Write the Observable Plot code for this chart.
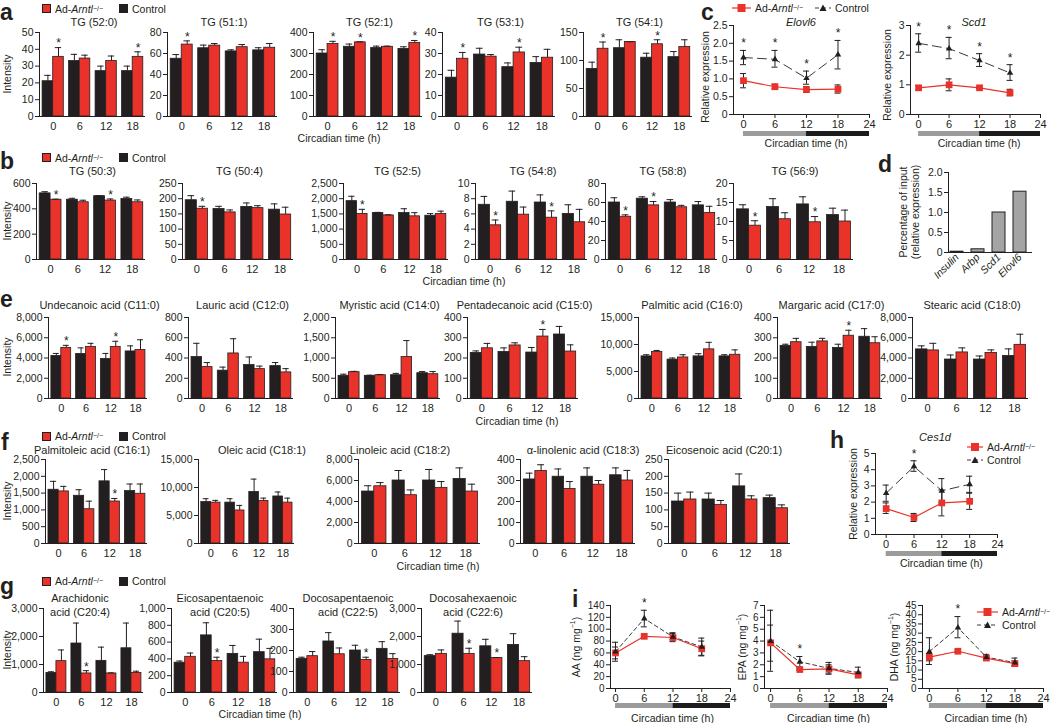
<!DOCTYPE html>
<html>
<head>
<meta charset="utf-8">
<script src="https://cdn.jsdelivr.net/npm/d3@7"></script>
<script src="https://cdn.jsdelivr.net/npm/@observablehq/plot@0.6"></script>
<style>
  html,body{margin:0;padding:0;background:#fff;}
  #fig{position:relative;width:1050px;height:723px;overflow:hidden;background:#fff;
       font-family:"Liberation Sans",Arial,Helvetica,sans-serif;color:#231f20;}
  #fig > svg{position:absolute;}
  .t{position:absolute;white-space:nowrap;transform:translate(-50%,-50%);text-align:center;font-size:11px;line-height:14px;}
  .ax{position:absolute;white-space:nowrap;transform:translate(-50%,-50%);text-align:center;font-size:10.5px;line-height:11px;}
  .rot{position:absolute;white-space:nowrap;transform:translate(-50%,-50%) rotate(-90deg);text-align:center;font-size:10.5px;line-height:11px;}
  .pl{position:absolute;font-weight:bold;font-size:23px;line-height:23px;}
  .lg{position:absolute;white-space:nowrap;font-size:10.5px;line-height:12px;transform:translateY(-50%);display:flex;align-items:center;}
  .sq{display:inline-block;width:7px;height:7px;border:1px solid #231f20;margin-right:4px;}
  sup{font-size:7px;line-height:0;vertical-align:super;}
</style>
</head>
<body>
<div id="fig"></div>
<script>
// ---------------- DATA ----------------
const TIMES = [0, 6, 12, 18];
// bar panels: one row per circadian time: [Control mean, Control upper error, Ad-Arntl mean, Ad-Arntl upper error]
const TG_52_0 = [[21,24.5,35.5,41],[33,37,34.5,36.5],[27,30,33,36],[27,30,35.5,38.5]];
const TG_52_0_sig = [0, 18];
const TG_51_1 = [[55,59,68.5,72],[65,68,67.5,69.5],[62,63.5,66,68.5],[63,65.5,65.5,69.5]];
const TG_51_1_sig = [0];
const TG_52_1 = [[300,318,345,358],[332,345,353,356],[326,335,332,335],[322,332,350,362]];
const TG_52_1_sig = [0, 6, 18];
const TG_53_1 = [[18.5,22,27.5,30.5],[29.5,32.5,28.5,29.5],[23.5,25.5,30.5,33],[25.5,28.5,28,32]];
const TG_53_1_sig = [0, 12];
const TG_54_1 = [[85,97,121,133],[122,137,133,133.5],[105,113,129,137],[106,116,124,137]];
const TG_54_1_sig = [0, 12];

const TG_50_3 = [[522,535,472,476],[472,483,452,468],[500,503,465,478],[478,492,452,470]];
const TG_50_3_sig = [0, 12];
const TG_50_4 = [[195,210,167,175],[166,175,155,163],[173,186,169,177],[164,183,148,172]];
const TG_50_4_sig = [0];
const TG_52_5 = [[1920,2080,1500,1650],[1530,1550,1450,1470],[1530,1670,1420,1540],[1440,1510,1500,1590]];
const TG_52_5_sig = [0];
const TG_54_8 = [[7.2,8.3,4.5,5.2],[7.6,9.0,5.9,6.9],[7.5,8.5,5.5,6.4],[6.0,7.2,4.9,6.6]];
const TG_54_8_sig = [0, 12];
const TG_58_8 = [[60,65,45,47],[64,66,57,61],[60,63,55,57],[57,61,49,56]];
const TG_58_8_sig = [0, 6];
const TG_56_9 = [[13.2,14.4,8.9,10.2],[13.8,16,10.6,12.3],[14.5,16.5,9.8,11.3],[11.7,13.5,10,13]];
const TG_56_9_sig = [0, 12];

const C11_0 = [[4200,4450,5000,5250],[4400,5000,5100,5450],[3900,4450,5100,5650],[4650,5200,4800,5800]];
const C11_0_sig = [0, 12];
const C12_0 = [[410,545,310,355],[275,310,445,590],[330,410,290,320],[320,355,258,295]];
const C12_0_sig = [];
const C14_0 = [[560,600,650,670],[560,575,575,590],[575,620,1025,1430],[625,665,600,665]];
const C14_0_sig = [];
const C15_0 = [[225,235,248,272],[230,250,262,275],[227,252,306,341],[316,356,232,265]];
const C15_0_sig = [12];
const C16_0 = [[7800,8100,8600,8900],[7200,7500,7600,8100],[7800,8300,9100,10400],[7800,8100,8100,9000]];
const C16_0_sig = [];
const C17_0 = [[260,268,278,297],[255,278,282,297],[250,268,310,337],[305,345,273,305]];
const C17_0_sig = [12];
const C18_0 = [[4850,5200,4750,5450],[3850,4300,4550,5000],[3850,4200,4500,4800],[4200,4900,5300,6350]];
const C18_0_sig = [];

const C16_1 = [[1600,1850,1550,1700],[1420,1600,1020,1260],[1850,2200,1250,1340],[1560,1770,1480,1770]];
const C16_1_sig = [12];
const C18_1 = [[7400,8000,7300,7700],[7300,8000,5900,6800],[9200,11500,7600,8100],[8400,9200,7300,8100]];
const C18_1_sig = [];
const C18_2 = [[4950,5500,5450,5800],[6000,6950,4600,5100],[6000,7050,5300,5900],[6150,7200,4950,5650]];
const C18_2_sig = [];
const C18_3 = [[305,335,345,375],[318,355,260,295],[318,360,280,300],[325,360,300,348]];
const C18_3_sig = [];
const C20_1 = [[125,150,131,153],[131,150,115,128],[170,207,131,142],[135,144,105,115]];
const C20_1_sig = [];

const C20_4 = [[700,740,1120,1520],[1750,2480,680,780],[1130,1620,680,700],[1580,2480,700,760]];
const C20_4_sig = [6];
const C20_5 = [[355,375,425,470],[680,830,375,420],[460,560,355,430],[480,635,395,525]];
const C20_5_sig = [6];
const C22_5 = [[160,168,173,195],[243,285,182,212],[200,225,155,168],[208,242,160,185]];
const C22_5_sig = [12];
const C22_6 = [[1300,1350,1380,1520],[2100,2550,1380,1580],[1650,1900,1230,1250],[1700,2100,1120,1280]];
const C22_6_sig = [6, 12];

// line panels: one row per time: [mean, lower, upper]
const ELOVL6_CTRL = [[1.6,1.4,1.8],[1.55,1.33,1.8],[1.02,0.85,1.22],[1.68,1.28,2.08]];
const ELOVL6_KO   = [[0.95,0.75,1.15],[0.78,0.72,0.85],[0.7,0.62,0.78],[0.71,0.6,0.83]];
const ELOVL6_SIG  = [0, 6, 12, 18];
const SCD1_CTRL = [[2.4,2.1,2.72],[2.22,1.88,2.6],[1.82,1.62,2.05],[1.4,1.15,1.68]];
const SCD1_KO   = [[0.9,0.83,0.97],[1.0,0.8,1.2],[0.9,0.87,0.93],[0.73,0.63,0.85]];
const SCD1_SIG  = [0, 6, 12, 18];
const CES1D_CTRL = [[2.55,2.05,3.05],[4.2,3.9,4.55],[2.7,1.95,3.45],[3.1,2.6,3.6]];
const CES1D_KO   = [[1.6,1.3,1.95],[1.05,0.8,1.3],[1.95,1.15,2.75],[2.05,1.55,2.55]];
const CES1D_SIG  = [6];
const AA_CTRL = [[62,46,78],[118,104,132],[87,82,94],[70,55,85]];
const AA_KO   = [[60,50,70],[88,86,90],[86,79,93],[67,56,80]];
const AA_SIG  = [6];
const EPA_CTRL = [[4.0,1.45,6.6],[2.25,1.8,2.7],[1.7,1.2,2.2],[1.35,0.9,1.8]];
const EPA_KO   = [[3.85,2.3,5.35],[1.6,1.55,1.65],[1.65,1.3,2.0],[1.15,1.0,1.3]];
const EPA_SIG  = [6];
const DHA_CTRL = [[20,13,27.5],[33,27.5,39],[17,15.5,18.5],[14,12,16.5]];
const DHA_KO   = [[17,15,19],[20.2,19.5,21],[16.5,15.5,17.5],[13.5,12.5,15]];
const DHA_SIG  = [6];

// panel d
const D_GENES = ["Insulin", "Arbp", "Scd1", "Elovl6"];
const D_VALUES = [0.02, 0.08, 1.0, 1.52];

// light / dark phases
const LIGHT_DARK = [{start: 0, end: 12, fill: "#9b9b9b"}, {start: 12, end: 24, fill: "#1c1c1c"}];

// ---------------- DRAWING ----------------
const RED = "#e8322a", INK = "#231f20", GRAY_BAR = "#a4a4a4";
const FONT = '"Liberation Sans", Arial, Helvetica, sans-serif';
const fig = document.getElementById("fig");
const AD = 'Ad-<i>Arntl</i><sup>−/−</sup>';
const baseStyle = {fontFamily: FONT, fontSize: "10.5px", color: INK, background: "transparent", overflow: "visible"};
const comma = d3.format(",");
const fix1 = d => d === 0 ? "0" : d3.format(".1f")(d);

function html(cls, inner, x, y, extra) {
  const el = document.createElement("div");
  el.className = cls;
  el.innerHTML = inner;
  el.style.left = x + "px"; el.style.top = y + "px";
  if (extra) Object.assign(el.style, extra);
  fig.appendChild(el);
  return el;
}
function put(svg, x, y) { svg.style.position = "absolute"; svg.style.left = x + "px"; svg.style.top = y + "px"; fig.appendChild(svg); }

// ---- bar charts ----
const BAR_W = 2.4;
const BAR_XDOM = [-3.1, 20.9];
function barChart(c) {
  const ML = 46, MR = 6, MT = 12, MB = 20;
  const recs = [];
  TIMES.forEach((t, i) => {
    const r = c.rows[i];
    recs.push({t, g: "Control", x1: t - BAR_W, x2: t, v: r[0], hi: r[1]});
    recs.push({t, g: "Ad", x1: t, x2: t + BAR_W, v: r[2], hi: r[3]});
  });
  const stars = recs.filter(d => d.g === "Ad" && c.sig.includes(d.t));
  const mid = d => (d.x1 + d.x2) / 2;
  const ticks = d3.range(0, c.max + c.step / 2, c.step);
  const svg = Plot.plot({
    width: c.right - c.left + ML + MR,
    height: c.bottom - c.top + MT + MB,
    marginLeft: ML, marginRight: MR, marginTop: MT, marginBottom: MB,
    style: baseStyle,
    x: {domain: BAR_XDOM},
    y: {domain: [0, c.max]},
    marks: [
      Plot.rect(recs, {x1: "x1", x2: "x2", y1: () => 0, y2: "v", fill: d => d.g === "Ad" ? RED : INK, stroke: INK, strokeWidth: 0.8}),
      Plot.ruleX(recs, {x: mid, y1: "v", y2: "hi", stroke: INK, strokeWidth: 1}),
      Plot.ruleY(recs, {x1: d => mid(d) - BAR_W * 0.3, x2: d => mid(d) + BAR_W * 0.3, y: "hi", stroke: INK, strokeWidth: 1}),
      Plot.axisY({ticks, tickSize: 4, tickPadding: 2, tickFormat: comma, label: null}),
      Plot.axisX({ticks: TIMES, tickSize: 0, tickPadding: 6, label: null, fontSize: 11}),
      Plot.ruleX([BAR_XDOM[0]], {stroke: INK}),
      Plot.ruleY([0], {stroke: INK}),
      Plot.text(stars, {x: mid, y: "hi", text: () => "*", dy: -4, fontSize: 12, fill: INK})
    ]
  });
  put(svg, c.left - ML, c.top - MT);
  const tx = c.titleX != null ? c.titleX : (c.left + c.right) / 2 + 2;
  html("t", c.title, tx, c.titleY);
}

const rowA = {top: 32, bottom: 116, titleY: 22};
const rowB = {top: 183, bottom: 259, titleY: 171};
const rowE = {top: 317, bottom: 398, titleY: 305};
const rowF = {top: 459, bottom: 543, titleY: 450};
const rowG = {top: 608, bottom: 692, titleY: 605};

const BAR_PANELS = [
  {...rowA, rows: TG_52_0, sig: TG_52_0_sig, title: "TG (52:0)", left: 39, right: 145, max: 50, step: 10},
  {...rowA, rows: TG_51_1, sig: TG_51_1_sig, title: "TG (51:1)", left: 167, right: 277, max: 80, step: 20},
  {...rowA, rows: TG_52_1, sig: TG_52_1_sig, title: "TG (52:1)", left: 313, right: 422, max: 400, step: 100},
  {...rowA, rows: TG_53_1, sig: TG_53_1_sig, title: "TG (53:1)", left: 442, right: 555, max: 40, step: 10},
  {...rowA, rows: TG_54_1, sig: TG_54_1_sig, title: "TG (54:1)", left: 583, right: 692, max: 150, step: 50},

  {...rowB, rows: TG_50_3, sig: TG_50_3_sig, title: "TG (50:3)", left: 36, right: 145, max: 600, step: 200},
  {...rowB, rows: TG_50_4, sig: TG_50_4_sig, title: "TG (50:4)", left: 182, right: 293, max: 250, step: 50},
  {...rowB, rows: TG_52_5, sig: TG_52_5_sig, title: "TG (52:5)", left: 343, right: 448, max: 2500, step: 500},
  {...rowB, rows: TG_54_8, sig: TG_54_8_sig, title: "TG (54:8)", left: 475, right: 587, max: 10, step: 2},
  {...rowB, rows: TG_58_8, sig: TG_58_8_sig, title: "TG (58:8)", left: 605, right: 717, max: 80, step: 20},
  {...rowB, rows: TG_56_9, sig: TG_56_9_sig, title: "TG (56:9)", left: 733, right: 853, max: 20, step: 5},

  {...rowE, rows: C11_0, sig: C11_0_sig, title: "Undecanoic acid (C11:0)", left: 48, right: 147, max: 8000, step: 2000},
  {...rowE, rows: C12_0, sig: C12_0_sig, title: "Lauric acid (C12:0)", left: 188, right: 293, max: 800, step: 200},
  {...rowE, rows: C14_0, sig: C14_0_sig, title: "Myristic acid (C14:0)", left: 335, right: 440, max: 2000, step: 500},
  {...rowE, rows: C15_0, sig: C15_0_sig, title: "Pentadecanoic acid (C15:0)", left: 467, right: 578, max: 400, step: 100},
  {...rowE, rows: C16_0, sig: C16_0_sig, title: "Palmitic acid (C16:0)", left: 638, right: 742, max: 15000, step: 5000},
  {...rowE, rows: C17_0, sig: C17_0_sig, title: "Margaric acid (C17:0)", left: 777, right: 882, max: 400, step: 100},
  {...rowE, rows: C18_0, sig: C18_0_sig, title: "Stearic acid (C18:0)", left: 912, right: 1028, max: 8000, step: 2000},

  {...rowF, rows: C16_1, sig: C16_1_sig, title: "Palmitoleic acid (C16:1)", left: 45, right: 147, max: 2500, step: 500, titleX: 92},
  {...rowF, rows: C18_1, sig: C18_1_sig, title: "Oleic acid (C18:1)", left: 198, right: 294, max: 15000, step: 5000, titleX: 262},
  {...rowF, rows: C18_2, sig: C18_2_sig, title: "Linoleic acid (C18:2)", left: 358, right: 480, max: 8000, step: 2000, titleX: 400},
  {...rowF, rows: C18_3, sig: C18_3_sig, title: "α-linolenic acid (C18:3)", left: 520, right: 635, max: 400, step: 100, titleX: 583},
  {...rowF, rows: C20_1, sig: C20_1_sig, title: "Eicosenoic acid (C20:1)", left: 668, right: 790, max: 250, step: 50, titleX: 724},

  {...rowG, rows: C20_4, sig: C20_4_sig, title: "Arachidonic<br>acid (C20:4)", left: 43, right: 143, max: 3000, step: 1000, titleX: 80},
  {...rowG, rows: C20_5, sig: C20_5_sig, title: "Eicosapentaenoic<br>acid (C20:5)", left: 171, right: 277, max: 1000, step: 200, titleX: 220},
  {...rowG, rows: C22_5, sig: C22_5_sig, title: "Docosapentaenoic<br>acid (C22:5)", left: 293, right: 400, max: 400, step: 100, titleX: 348},
  {...rowG, rows: C22_6, sig: C22_6_sig, title: "Docosahexaenoic<br>acid (C22:6)", left: 421, right: 532, max: 3000, step: 1000, titleX: 473}
];
BAR_PANELS.forEach(barChart);

// ---- line charts ----
function lineChart(c) {
  const ML = 40, MR = 8, MT = 12, MB = 20;
  const frameW = c.x24 - c.axisX;
  const pxPerH = frameW / (24 - c.xmin);
  const cap = 3 / pxPerH;
  const ctrl = TIMES.map((t, i) => ({t, v: c.ctrl[i][0], lo: c.ctrl[i][1], hi: c.ctrl[i][2]}));
  const ko = TIMES.map((t, i) => ({t, v: c.ko[i][0], lo: c.ko[i][1], hi: c.ko[i][2]}));
  const all = ctrl.concat(ko);
  const stars = ctrl.filter(d => c.sig.includes(d.t));
  const svg = Plot.plot({
    width: frameW + ML + MR, height: c.bottom - c.top + MT + MB,
    marginLeft: ML, marginRight: MR, marginTop: MT, marginBottom: MB,
    style: {...baseStyle, fontSize: c.fs || "10.5px"},
    x: {domain: [c.xmin, 24]},
    y: {domain: [0, c.max]},
    marks: [
      Plot.ruleX([c.xmin], {stroke: INK}),
      Plot.ruleY([0], {stroke: INK}),
      Plot.axisY({ticks: c.yticks, tickSize: 4, tickPadding: 2, tickFormat: c.fmt, label: null}),
      Plot.axisX({ticks: [0, 6, 12, 18, 24], tickSize: 4, tickPadding: 2, label: null, fontSize: 11}),
      Plot.line(ctrl, {x: "t", y: "v", stroke: "#3a3a3a", strokeWidth: 1, strokeDasharray: c.dash}),
      Plot.line(ko, {x: "t", y: "v", stroke: RED, strokeWidth: 1.2}),
      Plot.ruleX(all, {x: "t", y1: "lo", y2: "hi", stroke: INK, strokeWidth: 1}),
      Plot.ruleY(all, {x1: d => d.t - cap, x2: d => d.t + cap, y: "lo", stroke: INK}),
      Plot.ruleY(all, {x1: d => d.t - cap, x2: d => d.t + cap, y: "hi", stroke: INK}),
      Plot.dot(ko, {x: "t", y: "v", symbol: "square", fill: RED, r: 3.8}),
      Plot.dot(ctrl, {x: "t", y: "v", symbol: "triangle", fill: INK, r: 2.4}),
      Plot.text(stars, {x: "t", y: "hi", text: () => "*", dy: -7, fontSize: 12, fill: INK})
    ]
  });
  put(svg, c.axisX - ML, c.top - MT);
  const bar = Plot.plot({
    width: frameW + ML + MR, height: 5,
    marginTop: 0, marginBottom: 0, marginLeft: ML, marginRight: MR,
    style: baseStyle,
    x: {domain: [c.xmin, 24], axis: null},
    color: {type: "identity"},
    marks: [Plot.rect(LIGHT_DARK, {x1: "start", x2: "end", fill: "fill"})]
  });
  put(bar, c.axisX - ML, c.barY);
  const x0 = c.axisX + (0 - c.xmin) * pxPerH;
  html("ax", "Circadian time (h)", (x0 + c.x24) / 2, c.labelY);
  html("rot", c.ylabel, c.ylabelX, (c.top + c.bottom) / 2 + (c.ylabelDy || 0));
  if (c.title) html("t", `<i>${c.title}</i>`, c.titleX, c.titleY);
}

const LINE_PANELS = [
  {ctrl: ELOVL6_CTRL, ko: ELOVL6_KO, sig: ELOVL6_SIG, axisX: 733, x24: 869, xmin: -1.9, top: 25, bottom: 114, max: 2.5,
   yticks: [0, 0.5, 1, 1.5, 2, 2.5], fmt: fix1, dash: "9,5", barY: 131, labelY: 143,
   ylabel: "Relative expression", ylabelX: 705, ylabelDy: 7, title: "Elovl6", titleX: 801, titleY: 22},
  {ctrl: SCD1_CTRL, ko: SCD1_KO, sig: SCD1_SIG, axisX: 910, x24: 1040, xmin: -1.6, top: 25, bottom: 114, max: 3,
   yticks: [0, 1, 2, 3], fmt: d3.format("d"), dash: "9,5", barY: 131, labelY: 143,
   ylabel: "Relative expression", ylabelX: 887, ylabelDy: 5, title: "Scd1", titleX: 974, titleY: 22},
  {ctrl: CES1D_CTRL, ko: CES1D_KO, sig: CES1D_SIG, axisX: 875, x24: 997, xmin: -2.3, top: 453, bottom: 534, max: 5,
   yticks: [0, 1, 2, 3, 4, 5], fmt: d3.format("d"), dash: "9,5", barY: 551, labelY: 563,
   ylabel: "Relative expression", ylabelX: 853, title: "Ces1d", titleX: 935, titleY: 437},
  {ctrl: AA_CTRL, ko: AA_KO, sig: AA_SIG, axisX: 610, x24: 730, xmin: -1.05, top: 605, bottom: 688, max: 140,
   yticks: d3.range(0, 141, 20), fmt: d3.format("d"), dash: "4,3", barY: 703, labelY: 718, fs: "10px",
   ylabel: "AA (ng mg<sup>−1</sup>)", ylabelX: 576},
  {ctrl: EPA_CTRL, ko: EPA_KO, sig: EPA_SIG, axisX: 764, x24: 887, xmin: -1.25, top: 605, bottom: 688, max: 7,
   yticks: d3.range(0, 8, 1), fmt: d3.format("d"), dash: "4,3", barY: 703, labelY: 718, fs: "10px",
   ylabel: "EPA (ng mg<sup>−1</sup>)", ylabelX: 742},
  {ctrl: DHA_CTRL, ko: DHA_KO, sig: DHA_SIG, axisX: 922, x24: 1043, xmin: -1.45, top: 605, bottom: 688, max: 45,
   yticks: d3.range(0, 46, 5), fmt: d3.format("d"), dash: "4,3", barY: 703, labelY: 718, fs: "10px",
   ylabel: "DHA (ng mg<sup>−1</sup>)", ylabelX: 894}
];
LINE_PANELS.forEach(lineChart);

// ---- panel d ----
(function () {
  const ML = 30, MR = 4, MT = 8, MB = 40;
  const left = 948, right = 1032, top = 172, bottom = 252;
  const svg = Plot.plot({
    width: right - left + ML + MR, height: bottom - top + MT + MB,
    marginLeft: ML, marginRight: MR, marginTop: MT, marginBottom: MB,
    style: baseStyle,
    x: {domain: D_GENES, paddingInner: 0.38, paddingOuter: 0.19, align: 0.31},
    y: {domain: [0, 2]},
    marks: [
      Plot.barY(D_GENES.map((g, i) => ({g, v: D_VALUES[i]})), {x: "g", y: "v", fill: GRAY_BAR, stroke: INK, strokeWidth: 1}),
      Plot.axisY({ticks: [0, 0.5, 1, 1.5, 2], tickSize: 4, tickPadding: 2, tickFormat: fix1, label: null}),
      Plot.axisX({tickSize: 0, tickPadding: 3, tickRotate: -45, label: null, fontSize: 10.5}),
      Plot.frame({anchor: "left", stroke: INK}),
      Plot.ruleY([0], {stroke: INK})
    ]
  });
  d3.select(svg).selectAll('[aria-label="x-axis tick label"] text').attr("font-style", "italic");
  put(svg, left - ML, top - MT);
  html("rot", "Percentage of input<br>(relative expression)", 909, 212, {lineHeight: "12px"});
})();

// ---- legends ----
function barLegend(y) {
  html("lg", `<span class="sq" style="background:${RED}"></span>${AD}`, 42, y);
  html("lg", `<span class="sq" style="background:${INK}"></span>Control`, 119, y);
}
barLegend(8.5); barLegend(157.5); barLegend(436); barLegend(581);

function swatch(kind, w) {
  const c = w / 2;
  if (kind === "ko")
    return `<svg width="${w}" height="10" style="position:static;margin-right:4px;overflow:visible"><line x1="0" x2="${w}" y1="5" y2="5" stroke="${RED}" stroke-width="1.2"/><rect x="${c - 4}" y="1" width="8" height="8" fill="${RED}"/></svg>`;
  return `<svg width="${w}" height="10" style="position:static;margin-right:4px;overflow:visible"><line x1="0" x2="${w}" y1="5" y2="5" stroke="#3a3a3a" stroke-dasharray="4,3"/><path d="M${c},1.5L${c + 3.5},8L${c - 3.5},8Z" fill="${INK}"/></svg>`;
}
// c legend (one row)
html("lg", swatch("ko", 19) + AD, 732, 8);
html("lg", swatch("ctrl", 16) + "Control", 815, 8);
// h legend
html("lg", swatch("ko", 16) + AD, 967, 447);
html("lg", swatch("ctrl", 16) + "Control", 967, 460);
// i legend
html("lg", swatch("ko", 21) + AD, 977, 612);
html("lg", swatch("ctrl", 21) + "Control", 977, 625);

// ---- axis titles ----
[74, 221, 357, 501, 650].forEach(y => html("rot", "Intensity", 7, y));
[[339, 138], [464, 281], [517, 421], [438, 566], [260, 714]].forEach(([x, y]) => html("ax", "Circadian time (h)", x, y));

// ---- panel letters ----
[["a", 0, 1], ["b", 0, 150], ["c", 701, 1], ["d", 878, 153], ["e", 0, 288], ["f", 1, 431],
 ["g", 0, 575], ["h", 830, 429], ["i", 572, 588]].forEach(([l, x, y]) => html("pl", l, x, y));
</script>
</body>
</html>
